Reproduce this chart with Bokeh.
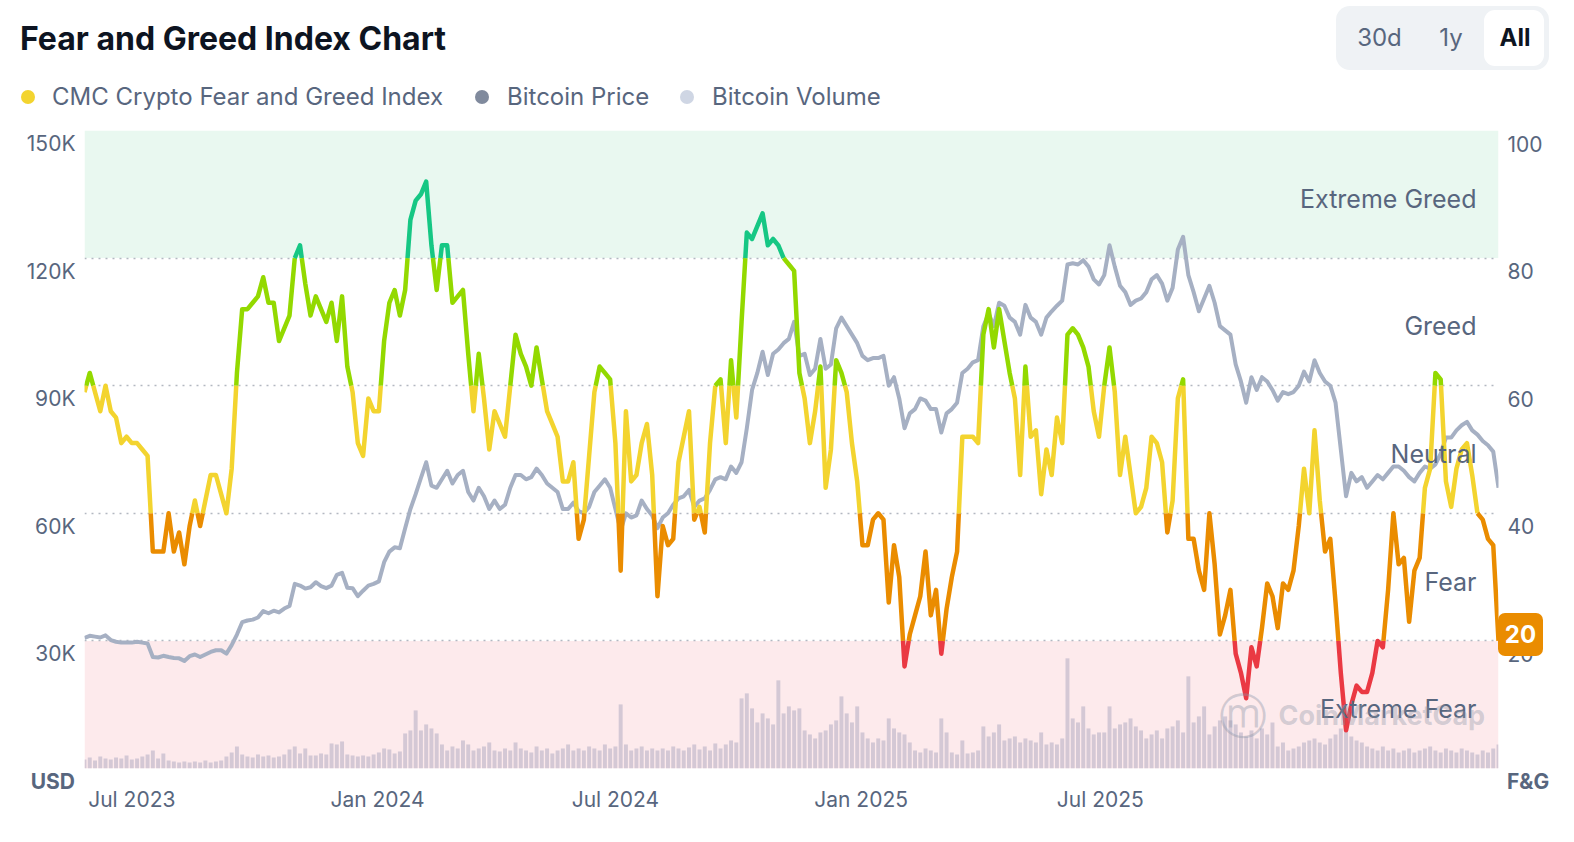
import numpy as np
import pandas as pd
from bokeh.plotting import figure
from bokeh.models import (Range1d, LinearAxis, FixedTicker, BoxAnnotation, Grid, Label, Div)
from bokeh.layouts import column
from bokeh.embed import file_html
from bokeh.resources import INLINE

# ---------------- data ----------------
START_DATE = "2023-06-28"
STEP_DAYS = 4

# CMC Crypto Fear and Greed Index (0-100), one value every 4 days
fear_greed = [
    59, 62, 59, 56, 60, 56, 55, 51, 52, 51,
    51, 50, 49, 34, 34, 34, 40, 34, 37, 32,
    38, 42, 38, 42, 46, 46, 43, 40, 47, 62,
    72, 72, 73, 74, 77, 73, 73, 67, 69, 71,
    80, 82, 76, 71, 74, 72, 70, 73, 67, 74,
    63, 59, 51, 49, 58, 56, 56, 67, 73, 75,
    71, 75, 86, 89, 90, 92, 82, 75, 82, 82,
    73, 74, 75, 65, 56, 65, 58, 50, 56, 54,
    52, 60, 68, 65, 63, 60, 66, 61, 56, 54,
    52, 45, 45, 48, 36, 39, 49, 59, 63, 62,
    61, 51, 31, 56, 45, 46, 51, 54, 46, 27,
    38, 35, 36, 48, 52, 56, 39, 41, 37, 51,
    60, 61, 51, 64, 55, 70, 84, 83, 85, 87,
    82, 83, 82, 80, 79, 78, 62, 58, 51, 56,
    63, 44, 50, 64, 62, 59, 51, 45, 35, 35,
    39, 40, 39, 26, 35, 30, 16, 21, 24, 27,
    34, 24, 28, 18, 25, 30, 34, 52, 52, 52,
    51, 68, 72, 66, 72, 67, 62, 58, 46, 63,
    52, 53, 43, 50, 46, 55, 51, 68, 69, 68,
    66, 63, 56, 52, 60, 66, 59, 46, 52, 46,
    40, 41, 44, 52, 51, 48, 37, 42, 58, 61,
    36, 36, 31, 28, 40, 32, 21, 24, 28, 18,
    15, 11, 19, 16, 22, 29, 27, 22, 29, 28,
    31, 38, 47, 40, 53, 42, 34, 36, 26, 15,
    6, 10, 13, 12, 12, 15, 20, 19, 28, 40,
    32, 33, 23, 31, 33, 44, 47, 62, 61, 45,
    41, 47, 50, 51, 46, 40, 39, 36, 35, 20,
]

# Bitcoin price, thousands of USD
btc_price_k = [
    30.7, 31.2, 31.0, 30.8, 31.3, 30.2, 29.8, 29.6, 29.6, 29.6,
    29.8, 29.6, 29.4, 26.2, 26.1, 26.5, 26.2, 26.0, 25.9, 25.3,
    26.4, 26.8, 26.2, 26.8, 27.4, 27.8, 27.8, 27.0, 29.0, 31.5,
    34.4, 34.8, 35.0, 35.5, 37.0, 36.5, 37.1, 36.7, 37.6, 38.2,
    43.4, 43.0, 42.3, 42.6, 43.8, 42.9, 42.4, 43.0, 45.5, 46.0,
    42.5, 42.4, 40.5, 41.8, 43.0, 43.4, 44.0, 48.5, 51.0, 52.0,
    51.8, 56.5, 61.0, 64.5, 68.3, 72.0, 66.5, 66.0, 68.0, 70.0,
    67.0, 69.0, 70.0, 65.0, 63.0, 66.0, 64.0, 61.0, 63.0, 61.0,
    62.0, 66.0, 69.0, 69.0, 68.0, 68.5, 70.5, 69.0, 67.0, 66.0,
    65.0, 61.0, 61.0, 62.5, 60.5, 60.0, 61.5, 65.0, 66.5, 68.0,
    66.0, 61.0, 56.0, 60.0, 59.0, 59.5, 63.0, 61.0, 59.5, 56.5,
    59.0, 60.0, 62.0, 63.5, 64.0, 65.5, 61.5, 63.0, 63.5, 65.5,
    68.0, 68.5, 68.0, 71.0, 69.5, 72.0, 80.0, 89.0, 93.0, 98.0,
    92.5, 97.5, 98.5, 100.0, 101.0, 105.0, 97.0, 97.5, 92.5, 94.0,
    101.0, 94.0, 95.0, 103.5, 106.0, 104.0, 102.0, 100.0, 97.0, 96.0,
    96.5, 96.5, 97.0, 90.0, 92.0, 87.0, 80.0, 83.5, 84.5, 87.0,
    86.5, 84.5, 84.5, 79.0, 83.5, 84.5, 86.0, 93.0, 94.0, 95.5,
    96.0, 104.0, 107.0, 104.0, 109.5, 108.8, 106.0, 105.0, 102.0, 109.0,
    106.0, 105.0, 102.0, 106.0, 107.5, 108.8, 110.0, 118.5, 118.8, 118.5,
    119.5, 118.0, 115.0, 113.8, 116.0, 123.0, 118.0, 113.5, 112.0, 109.0,
    110.0, 110.5, 112.0, 115.0, 116.0, 114.0, 110.0, 113.0, 122.0, 125.0,
    116.0, 112.0, 107.5, 110.5, 113.5, 109.5, 104.0, 103.0, 102.0, 95.0,
    91.0, 86.0, 92.0, 89.0, 92.0, 91.0, 89.0, 86.5, 88.5, 88.0,
    88.5, 90.0, 93.3, 91.0, 96.0, 93.0, 91.0, 90.0, 86.0, 75.0,
    64.0, 69.5, 67.5, 68.5, 66.0, 67.5, 69.0, 68.0, 69.5, 71.0,
    71.0, 70.0, 68.5, 67.5, 69.5, 71.0, 70.5, 71.5, 74.0, 77.8,
    77.8, 79.5, 80.7, 81.5, 79.5, 78.5, 77.0, 76.0, 74.5, 66.0,
]

# Bitcoin volume, billions of USD (relative)
btc_volume_b = [
    9, 11, 8, 12, 10, 9, 11, 10, 13, 9,
    10, 12, 14, 18, 10, 15, 8, 7, 6, 7,
    6, 7, 6, 8, 6, 7, 8, 12, 16, 22,
    14, 12, 11, 14, 12, 13, 11, 12, 14, 19,
    22, 15, 20, 13, 13, 15, 14, 25, 24, 27,
    14, 13, 12, 13, 12, 14, 16, 20, 19, 15,
    17, 35, 38, 58, 38, 44, 40, 35, 24, 18,
    22, 20, 28, 24, 18, 20, 22, 26, 18, 17,
    20, 18, 26, 20, 18, 16, 22, 18, 20, 15,
    18, 20, 24, 18, 20, 18, 22, 20, 18, 24,
    20, 22, 64, 24, 18, 20, 22, 18, 20, 18,
    20, 18, 22, 20, 18, 21, 24, 19, 22, 18,
    25, 20, 24, 28, 26, 70, 75, 60, 46, 55,
    50, 44, 88, 55, 62, 58, 60, 38, 34, 30,
    36, 38, 44, 48, 72, 55, 46, 62, 36, 30,
    26, 30, 28, 50, 40, 36, 34, 26, 18, 16,
    20, 18, 16, 50, 36, 16, 14, 28, 15, 16,
    18, 42, 32, 36, 44, 28, 30, 32, 26, 30,
    28, 26, 36, 24, 26, 24, 30, 110, 50, 46,
    62, 40, 34, 36, 36, 62, 40, 44, 46, 50,
    42, 38, 30, 34, 38, 30, 40, 42, 48, 36,
    92, 46, 52, 62, 34, 42, 48, 52, 48, 44,
    36, 32, 38, 30, 40, 34, 46, 22, 26, 18,
    20, 22, 26, 28, 30, 26, 24, 30, 34, 40,
    44, 32, 28, 26, 22, 20, 18, 22, 18, 20,
    16, 18, 20, 16, 18, 20, 22, 18, 16, 20,
    18, 16, 20, 18, 16, 14, 18, 16, 20, 24,
]

x_tick_dates = ["2023-08-03", "2024-02-06", "2024-08-05", "2025-02-08", "2025-08-09"]
x_tick_labels = ["Jul 2023", "Jan 2024", "Jul 2024", "Jan 2025", "Jul 2025"]
usd_ticks = [30000, 60000, 90000, 120000, 150000]
usd_labels = ["30K", "60K", "90K", "120K", "150K"]
fg_ticks = [20, 40, 60, 80, 100]
fg_labels = ["20", "40", "60", "80", "100"]
zone_bounds = [0, 20, 40, 60, 80, 100]
zone_names = ["Extreme Fear", "Fear", "Neutral", "Greed", "Extreme Greed"]
zone_colors = ["#ea3943", "#ea8c00", "#f3d42f", "#93d900", "#16c784"]

# ---------------- layout / styles ----------------
TEXT_GREY = "#58667e"
FONT = "Inter"
W, H_HEAD = 1566, 118
FRAME_L, FRAME_T, FRAME_W, FRAME_H = 84, 12, 1414, 638
H_FIG = 702
VOL_PX = 637  # volume scale: one unit per pixel of the reference plot

n = len(fear_greed)
dates = pd.date_range(START_DATE, periods=n, freq=f"{STEP_DAYS}D")
t_ms = (dates.values.astype("datetime64[ms]").astype(np.int64)).astype(float)
price = [v * 1000 for v in btc_price_k]

p = figure(width=W, height=H_FIG, x_axis_type="datetime",
           x_range=Range1d(dates[0], dates[-1]), y_range=Range1d(0, 150000),
           output_backend="svg", toolbar_location=None, title_location=None,
           min_border_left=FRAME_L, min_border_right=W - FRAME_L - FRAME_W,
           min_border_top=FRAME_T, min_border_bottom=H_FIG - FRAME_T - FRAME_H)
p.extra_y_ranges = {"fg": Range1d(0, 100), "vol": Range1d(0, VOL_PX)}
p.outline_line_color = None
p.background_fill_color = "white"
p.border_fill_color = "white"
p.xgrid.visible = False
p.ygrid.visible = False

# zone bands
p.add_layout(BoxAnnotation(bottom=80, top=100, y_range_name="fg", fill_color="#e9f8f0",
                           fill_alpha=1, line_color=None, level="underlay"))
p.add_layout(BoxAnnotation(bottom=0, top=20, y_range_name="fg", fill_color="#fdeaec",
                           fill_alpha=1, line_color=None, level="underlay"))
p.add_layout(Grid(dimension=1, ticker=FixedTicker(ticks=[0] + usd_ticks),
                  grid_line_color="#b3b8c1", grid_line_width=1.6, grid_line_dash="2 5"))

# volume bars
p.vbar(x=dates, top=btc_volume_b, width=STEP_DAYS * 86400000 * 0.75, y_range_name="vol",
       fill_color="#d4c8d5", line_color=None)

# bitcoin price
p.line(dates, price, line_color="#a6b0c3", line_width=4, line_join="round")

# fear & greed line coloured by zone
def zone_of(v):
    for k in range(len(zone_colors)):
        if v < zone_bounds[k + 1]:
            return k
    return len(zone_colors) - 1

seg_xs, seg_ys, seg_cols = [], [], []
cur_x, cur_y, cur_z = [t_ms[0]], [fear_greed[0]], None
for j in range(n - 1):
    x0, y0, x1, y1 = t_ms[j], fear_greed[j], t_ms[j + 1], fear_greed[j + 1]
    cuts = sorted([b for b in zone_bounds[1:-1] if min(y0, y1) < b < max(y0, y1)], reverse=(y1 < y0))
    pts = [(x0, y0)] + [(x0 + (b - y0) / (y1 - y0) * (x1 - x0), b) for b in cuts] + [(x1, y1)]
    for (ax, ay), (bx, by) in zip(pts[:-1], pts[1:]):
        z = zone_of((ay + by) / 2)
        if cur_z is None:
            cur_z = z
        if z != cur_z:
            seg_xs.append(cur_x); seg_ys.append(cur_y); seg_cols.append(zone_colors[cur_z])
            cur_x, cur_y, cur_z = [ax], [ay], z
        cur_x.append(bx); cur_y.append(by)
seg_xs.append(cur_x); seg_ys.append(cur_y); seg_cols.append(zone_colors[cur_z])
p.multi_line(xs=seg_xs, ys=seg_ys, line_color=seg_cols, line_width=4.5,
             line_join="round", line_cap="butt", y_range_name="fg")

# axes (labels sit ~13px below their grid line, as in the reference)
label_drop_px = 13
off_usd = round(label_drop_px / FRAME_H * 150000)
left_t = [t - off_usd for t in usd_ticks]
p.yaxis.ticker = FixedTicker(ticks=left_t)
p.yaxis.major_label_overrides = {t: l for t, l in zip(left_t, usd_labels)}

off_fg = round(label_drop_px / FRAME_H * 100, 2)
right_t = [round(t - off_fg, 2) for t in fg_ticks]
ra = LinearAxis(y_range_name="fg", ticker=FixedTicker(ticks=right_t),
                major_label_overrides={t: l for t, l in zip(right_t, fg_labels)})
p.add_layout(ra, "right")

xt = [int(pd.Timestamp(d).value // 10**6) for d in x_tick_dates]
p.xaxis.ticker = FixedTicker(ticks=xt)
p.xaxis.major_label_overrides = {t: l for t, l in zip(xt, x_tick_labels)}

for ax in [p.xaxis[0], p.yaxis[0], ra]:
    ax.axis_line_color = None
    ax.major_tick_line_color = None
    ax.minor_tick_line_color = None
    ax.major_tick_out = 0
    ax.major_tick_in = 0
    ax.minor_tick_out = 0
    ax.major_label_text_font = FONT
    ax.major_label_text_font_size = "21px"
    ax.major_label_text_color = TEXT_GREY
p.yaxis[0].major_label_standoff = 9
ra.major_label_standoff = 9
p.xaxis[0].major_label_standoff = 18

# zone names
for k, name in enumerate(zone_names):
    mid = (zone_bounds[k] + zone_bounds[k + 1]) / 2
    p.add_layout(Label(x=1392, x_units="screen", y=mid - 0.7, y_range_name="fg", text=name,
                       text_align="right", text_baseline="middle", text_font=FONT,
                       text_font_size="25px", text_color=TEXT_GREY))

# watermark
p.add_layout(Label(x=1158, y=53, x_units="screen", y_units="screen", text="\u24dc",
                   text_align="center", text_baseline="middle", text_font="DejaVu Sans",
                   text_font_size="48px", text_color="#8a93a6", text_alpha=0.38))
p.add_layout(Label(x=1194, y=53, x_units="screen", y_units="screen", text="CoinMarketCap",
                   text_align="left", text_baseline="middle", text_font=FONT,
                   text_font_style="bold", text_font_size="27px", text_color="#8a93a6",
                   text_alpha=0.36))

# ---------------- header (plus overlay texts outside the plot frame) ----------------
title_text = "Fear and Greed Index Chart"
legend_items = [("CMC Crypto Fear and Greed Index", "#f3d42f", 21, 52),
                ("Bitcoin Price", "#808a9d", 475, 507),
                ("Bitcoin Volume", "#cfd6e4", 680, 712)]
legend_html = ""
for label, col, dot_left, text_left in legend_items:
    legend_html += (f'<div style="position:absolute;left:{dot_left}px;top:90px;width:14px;height:14px;'
                    f'border-radius:7px;background:{col};"></div>'
                    f'<div style="position:absolute;left:{text_left}px;top:82px;font-size:24px;'
                    f'line-height:30px;color:{TEXT_GREY};white-space:nowrap;">{label}</div>')
buttons = [("30d", 43.5, False), ("1y", 115, False), ("All", 179, True)]
btn_html = ('<div style="position:absolute;left:1336px;top:6px;width:213px;height:64px;'
            'background:#eff2f5;border-radius:14px;">'
            '<div style="position:absolute;left:148px;top:4px;width:60px;height:56px;'
            'background:#ffffff;border-radius:11px;"></div>')
for txt, cx, sel in buttons:
    style = "font-weight:700;color:#0d1421;" if sel else f"color:{TEXT_GREY};"
    btn_html += (f'<div style="position:absolute;left:{cx - 35}px;width:70px;top:17px;'
                 f'text-align:center;font-size:24px;line-height:30px;{style}">{txt}</div>')
btn_html += '</div>'

unit_html = (f'<div style="position:absolute;left:0px;width:75px;top:767px;text-align:right;'
             f'font-size:21px;line-height:30px;font-weight:700;color:{TEXT_GREY};z-index:1000;">USD</div>'
             f'<div style="position:absolute;left:1507px;top:767px;'
             f'font-size:21px;line-height:30px;font-weight:700;color:{TEXT_GREY};z-index:1000;">F&amp;G</div>')
badge_html = (f'<div style="position:absolute;left:1498px;top:613px;width:45px;height:43px;'
              f'background:{zone_colors[1]};border-radius:7px;color:#ffffff;font-weight:700;'
              f'font-size:24px;line-height:43px;text-align:center;z-index:1000;">{fear_greed[-1]}</div>')

header_html = (f'<div style="position:relative;width:{W}px;height:{H_HEAD}px;overflow:visible;'
               f'font-family:Inter,\'Noto Sans\',sans-serif;z-index:1000;">'
               f'<div style="position:absolute;left:20px;top:19px;font-size:32px;line-height:40px;'
               f'font-weight:700;color:#0d1421;white-space:nowrap;">{title_text}</div>'
               f'{legend_html}{btn_html}{unit_html}{badge_html}</div>')
header = Div(text=header_html, width=W, height=H_HEAD, margin=(0, 0, 0, 0),
             styles={"overflow": "visible", "z-index": "1000"})

layout = column(header, p, spacing=0)
open("out.html", "w").write(file_html(layout, INLINE))
